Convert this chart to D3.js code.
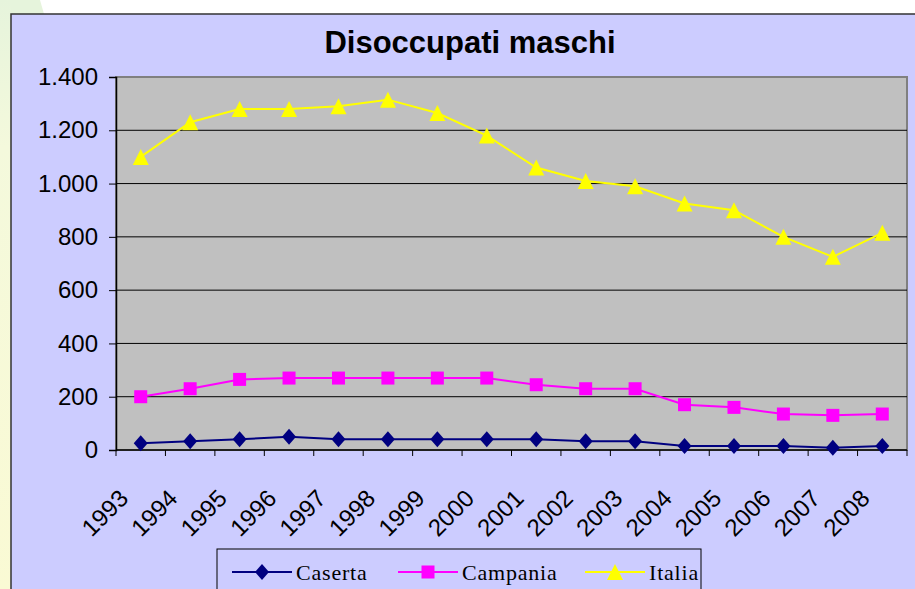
<!DOCTYPE html>
<html>
<head>
<meta charset="utf-8">
<script src="https://cdn.jsdelivr.net/npm/d3@7"></script>
<style>
  body { margin: 0; background: #ffffff; }
  svg { display: block; }
</style>
</head>
<body>
<svg id="chart" width="915" height="589"></svg>
<script>
// categories and values (thousands)
let years = ["1993", "1994", "1995", "1996", "1997", "1998", "1999", "2000",
             "2001", "2002", "2003", "2004", "2005", "2006", "2007", "2008"];
let caserta = [25, 33, 40, 50, 40, 40, 40, 40, 40, 33, 33, 15, 15, 15, 8, 15];
let campania = [200, 230, 265, 270, 270, 270, 270, 270, 245, 230, 230, 170, 160, 135, 130, 135];
let italia = [1100, 1230, 1280, 1280, 1290, 1315, 1265, 1180, 1060, 1010, 990, 925, 900, 800, 725, 815];
let yTicks = [0, 200, 400, 600, 800, 1000, 1200, 1400];

let seriesNames = ["Caserta", "Campania", "Italia"];
let seriesColors = ["#000080", "#ff00ff", "#ffff00"];
let seriesValues = [caserta, campania, italia];

let svg = d3.select("#chart");

// slide background bits on the left
let defs = svg.append("defs");
let grad = defs.append("linearGradient").attr("id", "side")
    .attr("x1", 0).attr("y1", 0).attr("x2", 0).attr("y2", 1);
grad.append("stop").attr("offset", "0%").attr("stop-color", "#e6f4dc");
grad.append("stop").attr("offset", "25%").attr("stop-color", "#f4f9dc");
grad.append("stop").attr("offset", "100%").attr("stop-color", "#fafad4");
svg.append("rect").attr("x", 0).attr("y", 0).attr("width", 11).attr("height", 589)
    .attr("fill", "url(#side)");
svg.append("path").attr("d", "M11,0 L40,0 L44,14 L11,14 Z")
    .attr("fill", "#e6f4dc");

// chart frame
svg.append("rect")
    .attr("x", 11).attr("y", 14).attr("width", 910).attr("height", 580)
    .attr("fill", "#ccccff")
    .attr("stroke", "#333333").attr("stroke-width", 1.5);

let plot = { left: 116, top: 77, right: 907, bottom: 450 };

let x = d3.scaleBand()
    .domain(years)
    .range([plot.left, plot.right]);

let y = d3.scaleLinear()
    .domain([0, 1400])
    .range([plot.bottom, plot.top]);

// plot area
svg.append("rect")
    .attr("x", plot.left).attr("y", plot.top)
    .attr("width", plot.right - plot.left).attr("height", plot.bottom - plot.top)
    .attr("fill", "#c0c0c0")
    .attr("stroke", "#808080").attr("stroke-width", 2);

// gridlines
svg.append("g").selectAll("line")
    .data(yTicks.filter(d => d > 0 && d < 1400))
    .join("line")
    .attr("x1", plot.left).attr("x2", plot.right)
    .attr("y1", d => y(d)).attr("y2", d => y(d))
    .attr("stroke", "#000000").attr("stroke-width", 1);

// y axis
let fmt = d3.formatLocale({ decimal: ",", thousands: ".", grouping: [3], currency: ["", "€"] }).format(",d");
let yAxis = svg.append("g")
    .attr("transform", "translate(" + plot.left + ",0)")
    .call(d3.axisLeft(y).tickValues(yTicks).tickFormat(fmt).tickSize(7).tickPadding(11));
yAxis.select(".domain").attr("stroke", "#000000").attr("stroke-width", 1.5);
yAxis.selectAll(".tick line").attr("stroke", "#000000");
yAxis.selectAll("text")
    .attr("font-family", "Liberation Sans, Arial, sans-serif")
    .attr("font-size", 24)
    .attr("fill", "#000000");

// x axis with ticks between categories
let xAxis = svg.append("g")
    .attr("transform", "translate(0," + plot.bottom + ")");
xAxis.append("line")
    .attr("x1", plot.left).attr("x2", plot.right)
    .attr("stroke", "#000000").attr("stroke-width", 1.5);
let bounds = years.map(d => x(d)).concat([x(years[years.length - 1]) + x.bandwidth()]);
xAxis.selectAll("line.tk")
    .data(bounds)
    .join("line")
    .attr("class", "tk")
    .attr("x1", d => d).attr("x2", d => d)
    .attr("y1", 0).attr("y2", 6)
    .attr("stroke", "#000000");
xAxis.selectAll("text")
    .data(years)
    .join("text")
    .attr("transform", d => "translate(" + (x(d) + x.bandwidth() / 2 - 23) + ",38) rotate(-45)")
    .attr("text-anchor", "end")
    .attr("dy", "0.7em")
    .attr("font-family", "Liberation Sans, Arial, sans-serif")
    .attr("font-size", 24)
    .attr("fill", "#000000")
    .text(d => d);

// markers: diamond, square, triangle
let shapes = [
    "M0,-8L7,0L0,8L-7,0Z",
    "M-6.5,-6.5L6.5,-6.5L6.5,6.5L-6.5,6.5Z",
    "M0,-8L8,8L-8,8Z"
];

let line = d3.line()
    .x((d, i) => x(years[i]) + x.bandwidth() / 2)
    .y(d => y(d));

seriesValues.forEach(function (vals, s) {
    svg.append("path")
        .datum(vals)
        .attr("d", line)
        .attr("fill", "none")
        .attr("stroke", seriesColors[s])
        .attr("stroke-width", 2);
    svg.append("g").selectAll("path")
        .data(vals)
        .join("path")
        .attr("transform", (d, i) => "translate(" + (x(years[i]) + x.bandwidth() / 2) + "," + y(d) + ")")
        .attr("d", shapes[s])
        .attr("fill", seriesColors[s]);
});

// title
svg.append("text")
    .attr("x", 470).attr("y", 53)
    .attr("text-anchor", "middle")
    .attr("font-family", "Liberation Sans, Arial, sans-serif")
    .attr("font-weight", "bold")
    .attr("font-size", 31)
    .attr("fill", "#000000")
    .text("Disoccupati maschi");

// legend
let legend = svg.append("g");
legend.append("rect")
    .attr("x", 217).attr("y", 549).attr("width", 484).attr("height", 50)
    .attr("fill", "#ccccff")
    .attr("stroke", "#000000").attr("stroke-width", 1);
let legendX = [232, 398, 585];
seriesNames.forEach(function (name, s) {
    let g = legend.append("g").attr("transform", "translate(" + legendX[s] + ",572)");
    g.append("line").attr("x1", 0).attr("x2", 60)
        .attr("stroke", seriesColors[s]).attr("stroke-width", 2);
    g.append("path")
        .attr("transform", "translate(30,0)")
        .attr("d", shapes[s])
        .attr("fill", seriesColors[s]);
    g.append("text")
        .attr("x", 64).attr("y", 8)
        .attr("font-family", "Liberation Serif, Times New Roman, serif")
        .attr("font-size", 22)
        .attr("letter-spacing", 0.8)
        .attr("fill", "#000000")
        .text(name);
});
</script>
</body>
</html>
